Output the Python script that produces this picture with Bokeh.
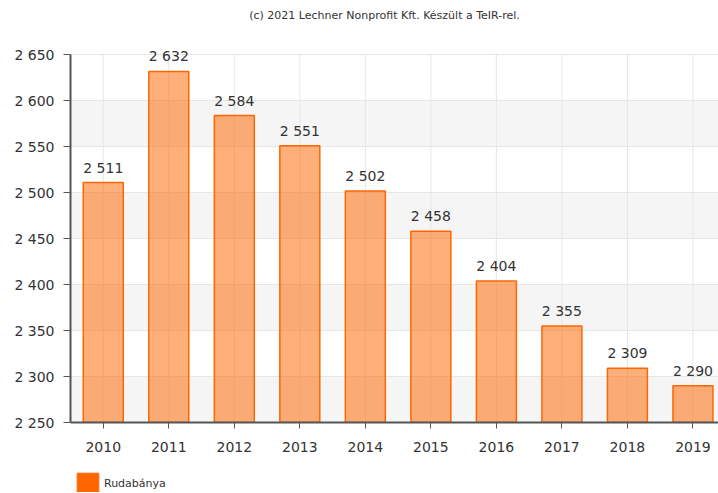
from bokeh.plotting import figure
from bokeh.layouts import column
from bokeh.models import (Range1d, FixedTicker, Legend, LegendItem, ColumnDataSource, LabelSet, Label,
                          CustomJSTickFormatter, BoxAnnotation)
from bokeh.core.properties import value
from bokeh.embed import file_html
from bokeh.resources import INLINE

years = [2010, 2011, 2012, 2013, 2014, 2015, 2016, 2017, 2018, 2019]
values = [2511, 2632, 2584, 2551, 2502, 2458, 2404, 2355, 2309, 2290]
labels = ["2 511", "2 632", "2 584", "2 551", "2 502", "2 458", "2 404", "2 355", "2 309", "2 290"]
y_ticks = [2250, 2300, 2350, 2400, 2450, 2500, 2550, 2600, 2650]
series_name = "Rudabánya"
title_text = "(c) 2021 Lechner Nonprofit Kft. Készült a TeIR-rel."

FONT = "DejaVu Sans"
src = ColumnDataSource(dict(x=years, top=values, lab=labels))

# title strip
p0 = figure(width=718, height=30, output_backend="svg", toolbar_location=None,
            x_range=Range1d(0, 1), y_range=Range1d(0, 30), x_axis_type=None, y_axis_type=None,
            min_border=0, min_border_left=0, min_border_right=0, min_border_top=0, min_border_bottom=0)
p0.outline_line_color = None
p0.grid.visible = False
p0.add_layout(Label(x=0.4846, y=15.5, text=title_text, text_align="center", text_baseline="middle",
                    text_font=FONT, text_font_size="11px", text_color="#333333"))

# main chart
p = figure(width=718, height=430, output_backend="svg", toolbar_location=None,
           x_range=Range1d(2009.5, 2019.39), y_range=Range1d(y_ticks[0], y_ticks[-1] + 8),
           min_border_left=70, min_border_right=0, min_border_top=17, min_border_bottom=38)
p.outline_line_color = None

for lo, hi in zip(y_ticks[0::2], y_ticks[1::2]):
    p.add_layout(BoxAnnotation(bottom=lo, top=hi, fill_color="#f5f5f5", fill_alpha=1.0,
                               line_color=None, level="image"))

p.xgrid.visible = False
p.ygrid.grid_line_color = "#e6e6e6"
p.ygrid.ticker = FixedTicker(ticks=y_ticks)
p.segment(x0=years, x1=years, y0=[y_ticks[0]] * len(years), y1=[y_ticks[-1]] * len(years),
          line_color="#e6e6e6", line_width=1, level="underlay")

bars = p.vbar(x="x", top="top", bottom=y_ticks[0], width=0.61, source=src,
              fill_color="#ff6600", fill_alpha=0.52, line_color="#ff6600", line_width=1.5)

p.add_layout(LabelSet(x="x", y="top", text="lab", source=src, text_align="center",
                      text_baseline="bottom", y_offset=7, text_font_size=value("14px"),
                      text_font=value(FONT), text_color="#333333"))

p.yaxis.ticker = FixedTicker(ticks=y_ticks)
p.yaxis.bounds = (y_ticks[0], y_ticks[-1])
p.yaxis.formatter = CustomJSTickFormatter(code="return tick.toString().replace(/\\B(?=(\\d{3})+(?!\\d))/g, ' ');")
p.xaxis.ticker = FixedTicker(ticks=years)
p.xaxis.formatter = CustomJSTickFormatter(code="return tick.toFixed(0);")
for ax in (p.xaxis, p.yaxis):
    ax.axis_line_color = "#555555"
    ax.axis_line_width = 2
    ax.major_tick_line_color = "#555555"
    ax.major_tick_out = 7
    ax.major_tick_in = 0
    ax.minor_tick_line_color = None
    ax.major_label_text_font = FONT
    ax.major_label_text_font_size = "14px"
    ax.major_label_text_color = "#333333"
p.xaxis.major_tick_out = 6
p.xaxis.major_label_standoff = 13
p.yaxis.major_label_standoff = 9

# legend strip
p2 = figure(width=718, height=32, output_backend="svg", toolbar_location=None,
            x_range=Range1d(0, 1), y_range=Range1d(0, 1), x_axis_type=None, y_axis_type=None,
            min_border=0, min_border_left=0, min_border_right=0, min_border_top=0, min_border_bottom=0)
p2.outline_line_color = None
p2.grid.visible = False
swatch = p2.quad(left=[5], right=[6], bottom=[5], top=[6], fill_color="#ff6600", line_color="#ff6600")
legend = Legend(items=[LegendItem(label=series_name, renderers=[swatch])],
                location=(4, -5), orientation="horizontal",
                glyph_width=27, glyph_height=27, label_text_font=FONT,
                label_text_font_size="11px", label_text_color="#333333",
                border_line_color=None, background_fill_alpha=0,
                margin=0, padding=0, spacing=0, label_standoff=3)
p2.add_layout(legend, "center")

layout = column(p0, p, p2, spacing=0)
html = file_html(layout, INLINE)
open("out.html", "w").write(html)
